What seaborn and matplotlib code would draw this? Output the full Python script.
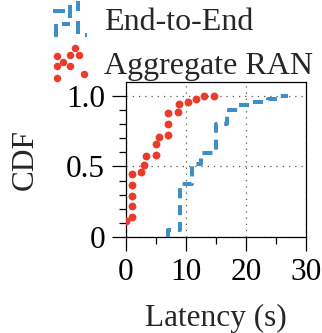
import matplotlib
matplotlib.use("Agg")
import matplotlib.pyplot as plt
import seaborn as sns
import pandas as pd
from matplotlib.legend_handler import HandlerBase
from matplotlib.lines import Line2D
from matplotlib.ticker import MultipleLocator

# ---- data ----
e2e_latency = [7.0, 7.0, 9.0, 11.0, 12.5, 15.0, 16.9, 18.8, 21.0, 23.7, 25.1, 27.0]
e2e_cdf = [0.0, 0.05, 0.375, 0.52, 0.595, 0.80, 0.90, 0.937, 0.958, 0.973, 1.0, 1.0]

ran_latency = [0.0, 1.0, 1.0, 1.0, 1.0, 1.0, 2.5, 3.0, 3.35, 5.0, 5.0, 5.5,
               7.0, 7.0, 7.0, 8.6, 8.9, 10.3, 11.6, 13.0, 14.7]
ran_cdf = [0.113, 0.142, 0.218, 0.291, 0.367, 0.445, 0.459, 0.511, 0.572, 0.577,
           0.655, 0.709, 0.723, 0.80, 0.875, 0.882, 0.941, 0.957, 0.977, 1.0, 1.0]

series_labels = ["End-to-End", "Aggregate RAN"]
x_ticks = [0, 10, 20, 30]
y_ticks = [0, 0.5, 1.0]
y_ticklabels = ["0", "0.5", "1.0"]

BLUE = "#3f8fc7"
RED = "#ea3b2b"

sns.set_theme(style="ticks")
plt.rcParams["font.family"] = ["Liberation Serif", "DejaVu Serif"]
plt.rcParams["axes.unicode_minus"] = False

e2e_df = pd.DataFrame({"latency": e2e_latency, "cdf": e2e_cdf})
ran_df = pd.DataFrame({"latency": ran_latency, "cdf": ran_cdf})

fig = plt.figure(figsize=(3.22, 3.33), dpi=100)
ax = fig.add_axes([0.391, 0.288, 0.559, 0.466])

sns.lineplot(data=e2e_df, x="latency", y="cdf", ax=ax, sort=False, estimator=None,
             drawstyle="steps-post", color=BLUE, linewidth=2.9,
             dashes=False, zorder=3)
e2e_line = ax.lines[-1]
e2e_line.set_dashes((2.5, 1.7))
e2e_line.set_dash_capstyle("butt")

sns.scatterplot(data=ran_df, x="latency", y="cdf", ax=ax, color=RED, s=32,
                linewidth=0, zorder=4)
ran_coll = ax.collections[-1]

ax.set_xlim(0, 30)
ax.set_ylim(0, 1.097)
ax.set_xticks(x_ticks)
ax.set_yticks(y_ticks)
ax.set_yticklabels(y_ticklabels)
ax.xaxis.set_minor_locator(MultipleLocator(5))
ax.yaxis.set_minor_locator(MultipleLocator(0.1))
ax.grid(True, which="major", color="#555555", linestyle=(0, (1, 4)), linewidth=0.9)
ax.set_axisbelow(True)

for s in ax.spines.values():
    s.set_visible(True)
    s.set_linewidth(0.9)
    s.set_color("black")

ax.tick_params(which="major", direction="out", length=10, width=0.9,
               labelsize=22.5, pad=5, colors="black")
ax.tick_params(which="minor", direction="out", length=5, width=0.9, colors="black")

ax.set_xlabel("Latency (s)", fontsize=22.5, labelpad=12)
ax.set_ylabel("CDF", fontsize=22.5, labelpad=19)


class DotsHandler(HandlerBase):
    def __init__(self, pts, color, ms):
        super().__init__()
        self.pts, self.color, self.ms = pts, color, ms

    def create_artists(self, legend, orig_handle, xdescent, ydescent, width,
                       height, fontsize, trans):
        xs = [-xdescent + px * width for px, py in self.pts]
        ys = [-ydescent + py * height for px, py in self.pts]
        ln = Line2D(xs, ys, linestyle="none", marker="o", markersize=self.ms,
                    markerfacecolor=self.color, markeredgewidth=0)
        ln.set_transform(trans)
        return [ln]


class SegHandler(HandlerBase):
    def __init__(self, segs, color, lw):
        super().__init__()
        self.segs, self.color, self.lw = segs, color, lw

    def create_artists(self, legend, orig_handle, xdescent, ydescent, width,
                       height, fontsize, trans):
        arts = []
        for (x0, y0), (x1, y1) in self.segs:
            ln = Line2D([-xdescent + x0 * width, -xdescent + x1 * width],
                        [-ydescent + y0 * height, -ydescent + y1 * height],
                        color=self.color, linewidth=self.lw,
                        solid_capstyle="butt")
            ln.set_transform(trans)
            arts.append(ln)
        return arts


blue_segs = [((0.0, 0.72), (0.35, 0.72)), ((0.09, 0.03), (0.09, 0.38)),
             ((0.5, 0.55), (0.5, 0.9)), ((0.26, 0.38), (0.5, 0.38)),
             ((0.74, 0.72), (0.74, 1.0)), ((0.76, 0.1), (0.76, 0.45)),
             ((0.94, 0.07), (1.0, 0.07))]
red_pts = [(0.11, 0.70), (0.11, 0.42), (0.11, 0.09), (0.30, 0.55), (0.50, 0.74),
           (0.50, 0.44), (0.65, 0.92), (0.77, 0.72), (0.92, 0.21)]

fig.legend([e2e_line, ran_coll], series_labels,
           handler_map={e2e_line: SegHandler(blue_segs, BLUE, 2.9),
                        ran_coll: DotsHandler(red_pts, RED, 5.4)},
           loc="upper left", bbox_to_anchor=(53 / 322, 1 - 1 / 333),
           frameon=False, fontsize=23, handlelength=1.05, handleheight=1.4,
           handletextpad=0.55, labelspacing=0.22, borderpad=0, borderaxespad=0)

fig.savefig("out.png", dpi=100)
